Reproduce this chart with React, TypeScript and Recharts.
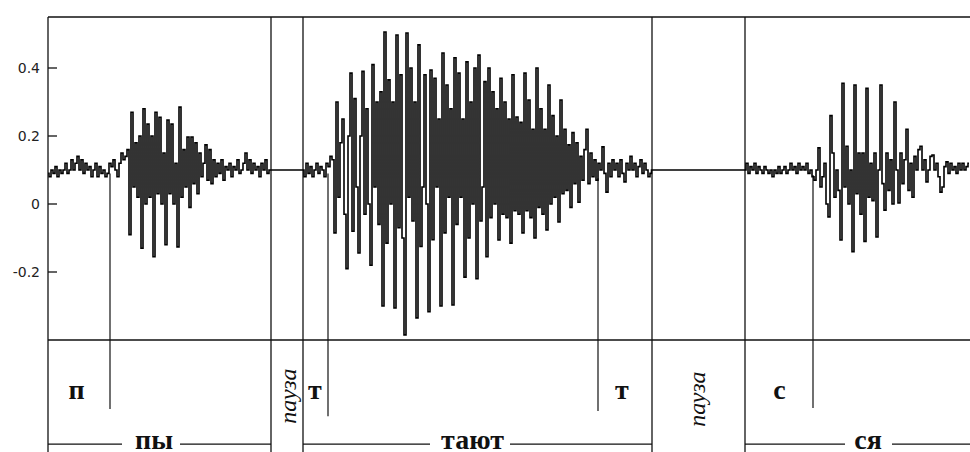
import { LineChart, Line, XAxis, YAxis, ReferenceLine, ReferenceDot } from 'recharts';

// time runs in screen samples: 132 samples between ticks, one reading every 2
const SAMPLE_STEP = 2;
const segmentStarts = [0, 255, 697];

// "пы"
const seg1 = [
  0.09, 0.08, 0.1, 0.09, 0.11, 0.08, 0.1, 0.09, 0.1, 0.12,
  0.09, 0.1, 0.13, 0.1, 0.12, 0.14, 0.1, 0.13, 0.09, 0.12,
  0.1, 0.11, 0.08, 0.1, 0.12, 0.08, 0.11, 0.09, 0.1, 0.08,
  0.09, 0.12, 0.11, 0.13, 0.1, 0.08, 0.12, 0.15, 0.13, 0.14,
  0.16, -0.09, 0.27, 0.05, 0.18, 0.02, 0.2, -0.13, 0.28, 0.0,
  0.235, 0.02, 0.2, -0.155, 0.27, 0.03, 0.255, 0.0, 0.15, -0.12,
  0.247, 0.03, 0.235, 0.0, 0.12, -0.126, 0.285, 0.02, 0.16, 0.05,
  0.197, -0.01, 0.197, 0.06, 0.18, 0.03, 0.15, 0.08, 0.12, 0.174,
  0.07, 0.16, 0.06, 0.13, 0.08, 0.12, 0.09, 0.13, 0.07, 0.11,
  0.1, 0.12, 0.08, 0.11, 0.1, 0.13, 0.09, 0.1, 0.12, 0.15,
  0.1, 0.13, 0.09, 0.12, 0.1, 0.11, 0.08, 0.12, 0.1, 0.13,
  0.09, 0.1,
];

// "тают"
const seg2 = [
  0.1, 0.08, 0.12, 0.09, 0.11, 0.08, 0.1, 0.12, 0.09, 0.11,
  0.1, 0.08, 0.12, 0.11, 0.14, 0.13, -0.085, 0.3, 0.02, 0.18,
  0.25, -0.03, -0.19, 0.2, 0.385, -0.08, 0.31, 0.05, -0.144, 0.2,
  0.39, -0.03, 0.28, 0.0, -0.18, 0.41, 0.05, 0.3, -0.06, 0.33,
  -0.3, 0.506, -0.115, 0.365, 0.0, 0.3, -0.306, 0.497, -0.07, 0.38,
  -0.1, -0.385, 0.503, 0.02, 0.4, -0.05, 0.3, -0.335, 0.468, -0.125,
  0.05, 0.38, 0.0, -0.317, 0.394, -0.105, 0.37, 0.05, 0.25, -0.3,
  0.444, -0.085, 0.35, 0.02, 0.28, -0.297, 0.43, -0.06, 0.385, 0.02,
  0.25, -0.215, 0.418, -0.1, 0.3, 0.0, 0.4, -0.22, 0.438, -0.05,
  0.05, 0.36, -0.155, 0.4, -0.04, 0.33, 0.0, 0.28, -0.106, 0.37,
  -0.03, 0.3, -0.04, 0.25, -0.115, 0.38, -0.02, 0.256, -0.03, 0.24,
  -0.085, 0.385, -0.02, 0.306, -0.04, 0.22, -0.1, 0.4, -0.01, 0.28,
  -0.03, 0.22, -0.076, 0.35, 0.0, 0.26, 0.02, 0.2, -0.053, 0.306,
  0.03, 0.22, 0.04, 0.174, -0.01, 0.21, 0.06, 0.18, 0.005, 0.14,
  0.07, 0.16, 0.22, 0.06, 0.15, 0.08, 0.13, 0.07, 0.12, 0.1,
  0.168, 0.09, 0.035, 0.12, 0.08, 0.13, 0.1, 0.12, 0.08, 0.13,
  0.09, 0.065, 0.12, 0.1, 0.14, 0.1, 0.12, 0.08, 0.11, 0.13,
  0.09, 0.12, 0.1, 0.08, 0.09,
];

// "ся"
const seg3 = [
  0.1, 0.12, 0.09, 0.11, 0.1, 0.12, 0.09, 0.11, 0.1, 0.09,
  0.11, 0.1, 0.09, 0.1, 0.08, 0.1, 0.09, 0.11, 0.09, 0.1,
  0.11, 0.09, 0.1, 0.12, 0.1, 0.11, 0.09, 0.12, 0.1, 0.11,
  0.1, 0.12, 0.09, 0.1, 0.08, 0.07, 0.1, 0.165, 0.05, 0.08,
  0.12, 0.0, -0.038, 0.26, 0.15, 0.02, 0.1, 0.04, -0.106, 0.355,
  0.05, 0.17, 0.0, 0.1, -0.14, 0.35, 0.03, 0.15, -0.03, 0.15,
  -0.11, 0.34, 0.02, 0.12, 0.01, 0.15, -0.097, 0.1, 0.35, 0.06,
  -0.018, 0.15, 0.04, 0.13, 0.0, 0.3, 0.1, 0.003, 0.15, 0.06,
  0.13, 0.22, 0.04, 0.12, 0.02, 0.14, 0.1, 0.16, 0.17, 0.1,
  0.13, 0.065, 0.1, 0.14, 0.144, 0.1, 0.12, 0.08, 0.035, 0.05,
  0.11, 0.124, 0.09, 0.12, 0.1, 0.11, 0.09, 0.12, 0.1, 0.12,
  0.1, 0.11, 0.12,
];

const PAUSE_LEVEL = 0.1;
const pauses = [[223, 255], [604, 697]];

// annotation strip under the oscillogram
const wordBounds = [223, 255, 604, 697];
const phoneBounds = [62, 280, 550, 765];
const phoneBoundTop = [0.09, 0.09, 0.076, 0.085];
const phoneBoundBottom = [-0.603, -0.624, -0.609, -0.6];
const phoneLabels = ['п', 'т', 'т', 'с'];
const phoneLabelAt = [28.5, 267, 574, 731.5];
const words = ['пы', 'тают', 'ся'];
const wordAt = [106, 424.5, 820];
const wordLines = [[0, 74], [132, 223], [255, 382], [462, 604], [697, 797], [844, 922]];
const pauseLabel = 'пауза';
const pauseLabelAt = [240.5, 649];
const pauseLabelLevel = [-0.565, -0.574];

const xTicks = [39, 171, 303, 435, 567, 699, 831];
const yTicks = [-0.2, 0, 0.2, 0.4];

const TOP = 0.55;
const AXIS_BOTTOM = -0.4;
const FLOOR = -0.74;
const PHONE_LEVEL = -0.5735;
const WORD_LEVEL = -0.721;
const WORD_LINE_LEVEL = -0.706;

const INK = '#111';
const SERIF = '"Liberation Serif", "Times New Roman", serif';

const waveform = [
  ...seg1.map((v, i) => ({ t: segmentStarts[0] + i * SAMPLE_STEP, v })),
  { t: pauses[0][0], v: PAUSE_LEVEL },
  { t: pauses[0][1], v: PAUSE_LEVEL },
  ...seg2.map((v, i) => ({ t: segmentStarts[1] + i * SAMPLE_STEP, v })),
  { t: pauses[1][0], v: PAUSE_LEVEL },
  { t: pauses[1][1], v: PAUSE_LEVEL },
  ...seg3.map((v, i) => ({ t: segmentStarts[2] + i * SAMPLE_STEP, v })),
];

const textShape = (label: string, style: any, rotate = false) => (p: any) => (
  <text
    x={p.cx}
    y={p.cy}
    textAnchor="middle"
    dominantBaseline={rotate ? 'central' : 'alphabetic'}
    transform={rotate ? `rotate(-90 ${p.cx} ${p.cy})` : undefined}
    fill={INK}
    style={style}
  >
    {label}
  </text>
);

const letterStyle = { fontFamily: SERIF, fontSize: 28, fontWeight: 700 };
const pauseStyle = { fontFamily: SERIF, fontSize: 24, fontStyle: 'italic' };

export default function App() {
  return (
    <div style={{ position: 'absolute', left: 0, top: 0, background: '#fff' }}>
      <LineChart
        width={970}
        height={452}
        data={waveform}
        margin={{ top: 17, right: 0, bottom: 112, left: 0 }}
      >
        <XAxis
          type="number"
          dataKey="t"
          domain={[0, 922]}
          ticks={xTicks}
          orientation="bottom"
          mirror
          tick={false}
          tickSize={8}
          stroke={INK}
          strokeWidth={1.3}
        />
        <XAxis
          xAxisId="top"
          type="number"
          dataKey="t"
          domain={[0, 922]}
          ticks={xTicks}
          orientation="top"
          mirror
          tick={false}
          tickSize={8}
          stroke={INK}
          strokeWidth={1.3}
        />
        <YAxis
          type="number"
          domain={[AXIS_BOTTOM, TOP]}
          ticks={yTicks}
          interval={0}
          width={48}
          tickSize={-9}
          tickMargin={17}
          stroke={INK}
          strokeWidth={1.3}
          tickFormatter={(v: number) => (v === 0 ? '0' : v.toFixed(1))}
          tick={{ fill: '#222', fontSize: 14, fontFamily: '"DejaVu Sans", sans-serif' }}
        />

        {/* left border carried down through the label strip */}
        <ReferenceLine
          segment={[{ x: 0, y: AXIS_BOTTOM }, { x: 0, y: FLOOR }]}
          stroke={INK}
          strokeWidth={1.3}
          ifOverflow="visible"
        />
        {wordBounds.map((t, i) => (
          <ReferenceLine
            key={`wb${i}`}
            segment={[{ x: t, y: TOP }, { x: t, y: FLOOR }]}
            stroke={INK}
            strokeWidth={1.3}
            ifOverflow="visible"
          />
        ))}
        {phoneBounds.map((t, i) => (
          <ReferenceLine
            key={`pb${i}`}
            segment={[{ x: t, y: phoneBoundTop[i] }, { x: t, y: phoneBoundBottom[i] }]}
            stroke={INK}
            strokeWidth={1.2}
            ifOverflow="visible"
          />
        ))}
        {wordLines.map(([a, b], i) => (
          <ReferenceLine
            key={`wl${i}`}
            segment={[{ x: a, y: WORD_LINE_LEVEL }, { x: b, y: WORD_LINE_LEVEL }]}
            stroke={INK}
            strokeWidth={1.3}
            ifOverflow="visible"
          />
        ))}

        <Line
          type="step"
          dataKey="v"
          stroke="#000"
          strokeWidth={1.6}
          dot={false}
          activeDot={false}
          isAnimationActive={false}
        />

        {phoneLabels.map((s, i) => (
          <ReferenceDot
            key={`pl${i}`}
            x={phoneLabelAt[i]}
            y={PHONE_LEVEL}
            r={0}
            ifOverflow="visible"
            shape={textShape(s, letterStyle)}
          />
        ))}
        {words.map((s, i) => (
          <ReferenceDot
            key={`w${i}`}
            x={wordAt[i]}
            y={WORD_LEVEL}
            r={0}
            ifOverflow="visible"
            shape={textShape(s, letterStyle)}
          />
        ))}
        {pauseLabelAt.map((t, i) => (
          <ReferenceDot
            key={`pz${i}`}
            x={t}
            y={pauseLabelLevel[i]}
            r={0}
            ifOverflow="visible"
            shape={textShape(pauseLabel, pauseStyle, true)}
          />
        ))}
      </LineChart>
    </div>
  );
}
